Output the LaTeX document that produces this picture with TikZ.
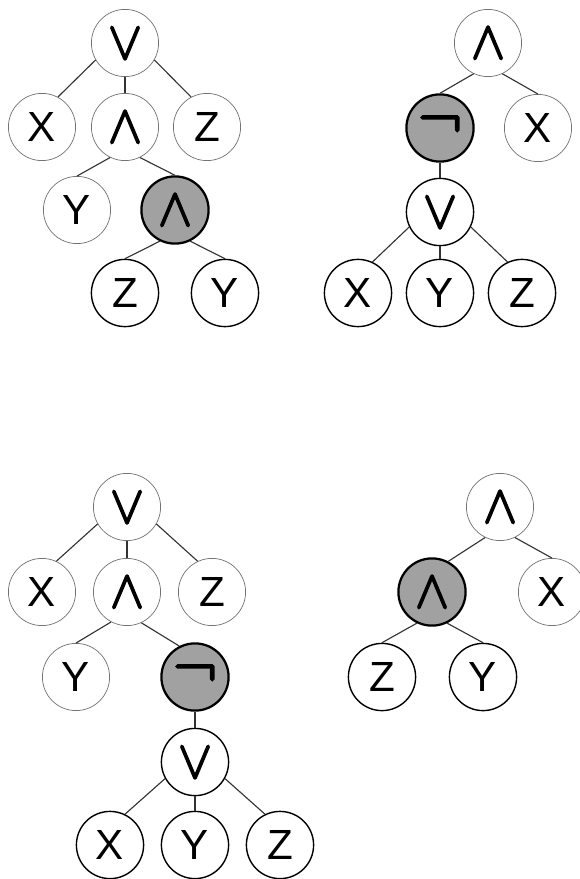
\documentclass[tikz,border=0pt]{standalone}
\usepackage{fontspec}
\setmainfont{Liberation Sans}
\newfontfamily\opfont{latinmodern-math}[Extension=.otf, FakeBold=3]
\newcommand{\lop}[2][38]{{\opfont\fontsize{#1}{#1}\selectfont #2}}

\begin{document}
\begin{tikzpicture}[x=0.25mm, y=-0.25mm,
    every node/.style={circle,
                       inner sep = 0pt,
                       minimum size = 16.8mm,
                       fill = white,
                       font = \fontsize{30}{36}\selectfont},
    oldnode/.style={draw = black!55, line width = 0.5pt},
    newnode/.style={draw = black, line width = 1pt},
    hitnode/.style={draw = black, line width = 1.6pt, fill = black!37},
    link/.style={draw = black!80, line width = 0.8pt}
    ]

    \useasboundingbox (0,0) rectangle (580,879);

    % top left
    \node[oldnode] (v1) at (125,43) {\lop{∨}};
    \node[oldnode] (x1) at (42,127) {X};
    \node[oldnode] (a1) at (125,127) {\lop{∧}};
    \node[oldnode] (z1) at (207,127) {Z};
    \node[oldnode] (y1) at (77,210) {Y};
    \node[hitnode] (n1) at (175,210) {\lop{∧}};
    \node[newnode] (z2) at (125,293) {Z};
    \node[newnode] (y2) at (225,293) {Y};

    % top right
    \node[oldnode] (a2) at (488,43) {\lop{∧}};
    \node[hitnode] (n2) at (440,128) {\lop[46]{¬}};
    \node[oldnode] (x3) at (538,128) {X};
    \node[newnode] (v2) at (440,212) {\lop{∨}};
    \node[newnode] (x4) at (358,293) {X};
    \node[newnode] (y3) at (440,293) {Y};
    \node[newnode] (z3) at (522,293) {Z};

    % bottom left
    \node[oldnode] (v3) at (127,507) {\lop{∨}};
    \node[oldnode] (x5) at (42,592) {X};
    \node[oldnode] (a3) at (127,592) {\lop{∧}};
    \node[oldnode] (z5) at (212,592) {Z};
    \node[oldnode] (y5) at (76,677) {Y};
    \node[hitnode] (n3) at (195,677) {\lop[46]{¬}};
    \node[newnode] (v4) at (195,762) {\lop{∨}};
    \node[newnode] (x6) at (110,845) {X};
    \node[newnode] (y6) at (195,845) {Y};
    \node[newnode] (z6) at (280,845) {Z};

    % bottom right
    \node[oldnode] (a4) at (500,507) {\lop{∧}};
    \node[hitnode] (n4) at (432,592) {\lop{∧}};
    \node[oldnode] (x7) at (552,592) {X};
    \node[newnode] (z7) at (382,677) {Z};
    \node[newnode] (y7) at (483,677) {Y};

    \path[link]
    %top left
    (v1.210) edge (x1.62)
    (v1.south) edge (a1.north)
    (v1.-30) edge (z1.118)
    (a1.-116) edge (y1.north)
    (a1.-64) edge (n1.north)
    (n1.-116) edge (z2.north)
    (n1.-64) edge (y2.north)
    %top right
    (a2.-115) edge (n2.north)
    (a2.-65) edge (x3.north)
    (n2.south) edge (v2.north)
    (v2.206) edge (x4.65)
    (v2.south) edge (y3.north)
    (v2.-26) edge (z3.115)
    %bottom left
    (v3.210) edge (x5.65)
    (v3.south) edge (a3.north)
    (v3.-30) edge (z5.115)
    (a3.-118) edge (y5.north)
    (a3.-65) edge (n3.117)
    (n3.south) edge (v4.north)
    (v4.209) edge (x6.64)
    (v4.south) edge (y6.north)
    (v4.-29) edge (z6.116)
    %bottom right
    (a4.-116) edge (n4.62)
    (a4.-64) edge (x7.north)
    (n4.-116) edge (z7.north)
    (n4.-64) edge (y7.north);

\end{tikzpicture}
\end{document}
